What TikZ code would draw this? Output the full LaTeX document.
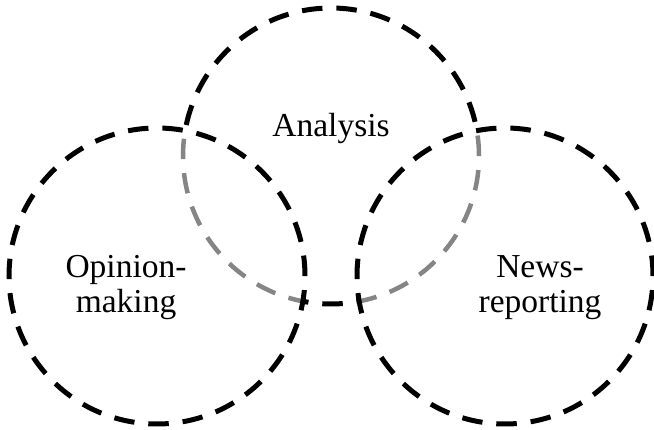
\documentclass[tikz,border=0pt]{standalone}
\usepackage{fontspec}
\setmainfont{Liberation Serif}
\begin{document}
\begin{tikzpicture}[x=1pt,y=1pt,
  ring/.style={line width=5pt, dash pattern=on 20.5pt off 13.94pt},
  faint/.style={ring, draw=black!48, line width=4.5pt},
  label/.style={font=\fontsize{33.5}{35}\selectfont, align=center, inner sep=0pt}]
\useasboundingbox (0,0) rectangle (654,430);
\coordinate (cl) at (157,154);
\coordinate (ct) at (331,274);
\coordinate (cr) at (505,154);
% parts of the top circle inside the side circles (grey)
\begin{scope}
  \clip (cl) circle (148);
  \draw[faint] (ct) circle (148);
\end{scope}
\begin{scope}
  \clip (cr) circle (148);
  \draw[faint] (ct) circle (148);
\end{scope}
% part of the top circle outside the side circles (black)
\begin{scope}
  \clip (0,0) -- (0,430) -- (654,430) -- (654,0) -- cycle
        (cl) circle (148) (cr) circle (148);
  \draw[ring] (ct) circle (148);
\end{scope}
% side circles
\draw[ring] (cl) circle (148);
\draw[ring] (cr) circle (148);
% labels
\node[label, anchor=base] (ana) at (331,293) {Analysis};
\node[label] (opi) at (126,142) {Opinion-\\making};
\node[label] (new) at (540,142) {News-\\reporting};
\end{tikzpicture}
\end{document}
